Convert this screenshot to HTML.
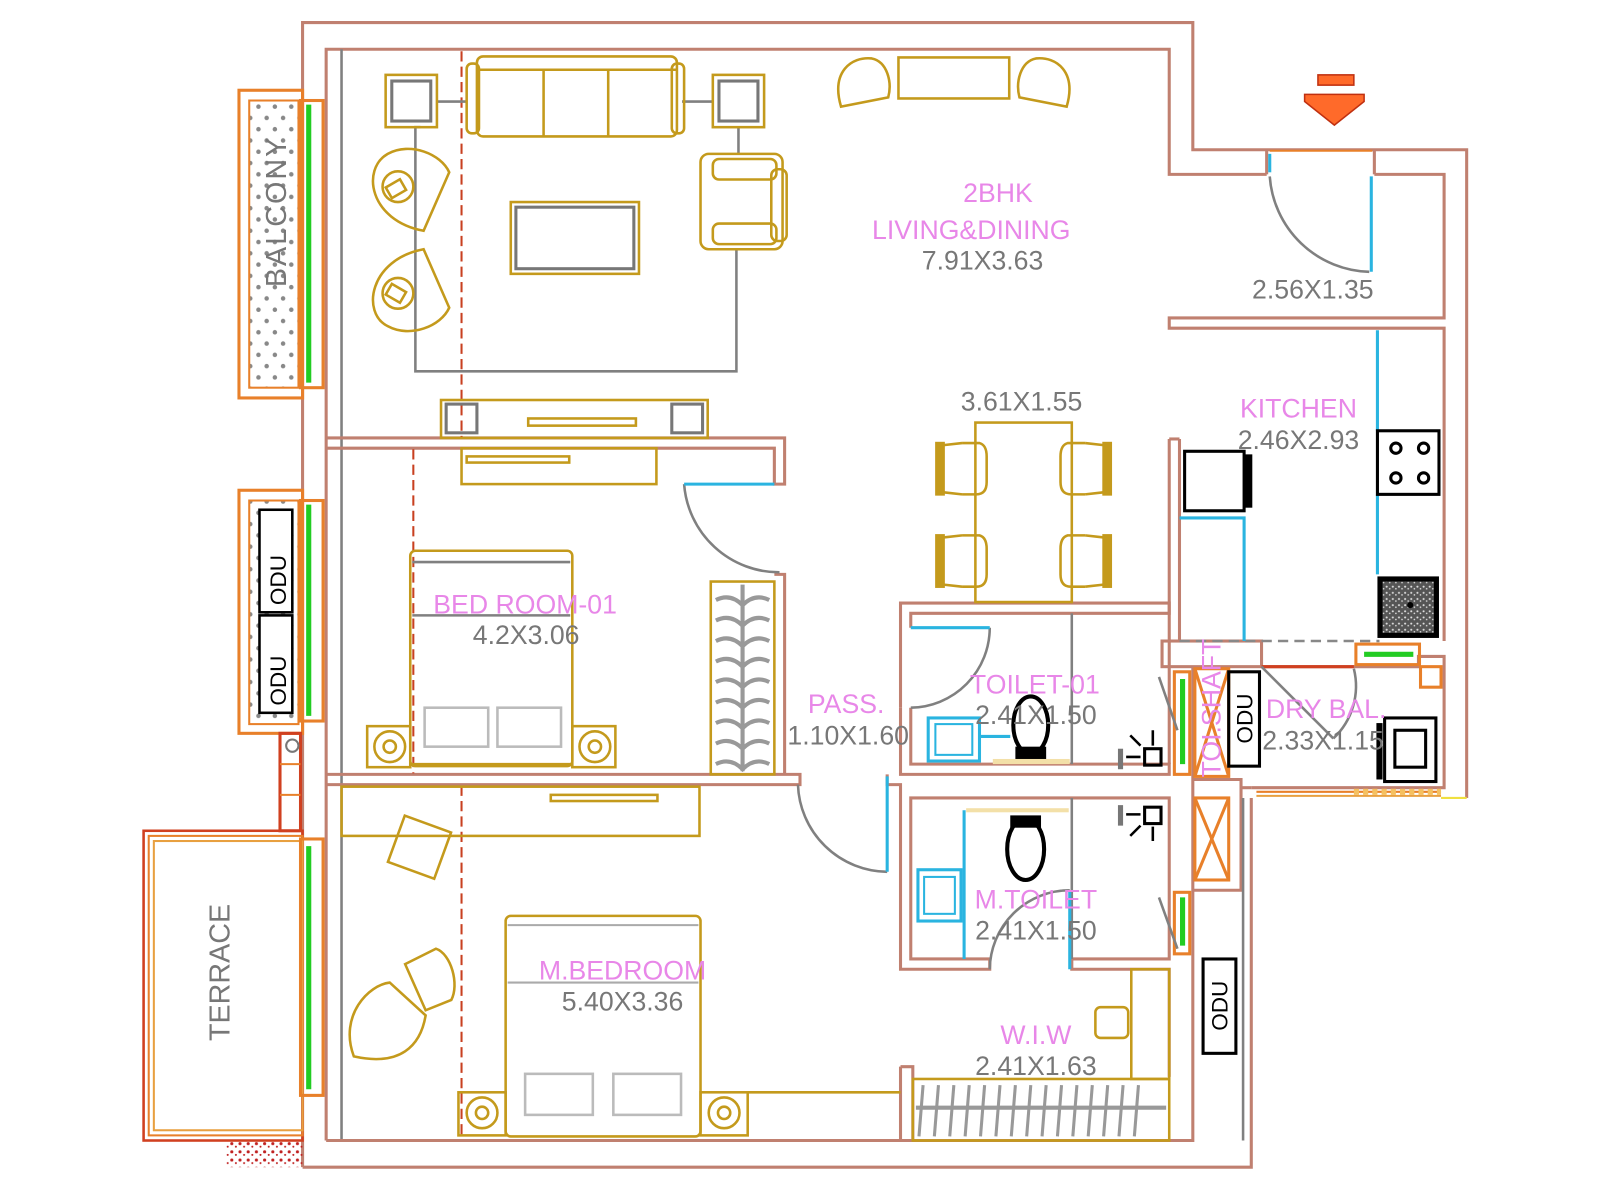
<!DOCTYPE html>
<html><head><meta charset="utf-8"><style>
html,body{margin:0;padding:0;background:#fff;}
svg{display:block;}
text{font-family:"Liberation Sans",sans-serif;}
.w{stroke:#c08070;stroke-width:3;fill:none;}
.f{stroke:#c49a1c;stroke-width:2.5;fill:none;}
.g{stroke:#808080;stroke-width:2.5;fill:none;}
.c{stroke:#2ab4e0;stroke-width:3;fill:none;}
.o{stroke:#e8802a;stroke-width:3;fill:none;}
.k{stroke:#000;stroke-width:3;fill:none;}
.lab{fill:#e887e8;font-size:26px;}
.dim{fill:#777;font-size:26px;}
</style></head><body>
<svg width="1600" height="1200" viewBox="0 0 1560 1170" preserveAspectRatio="none" xmlns="http://www.w3.org/2000/svg">
<defs>
<pattern id="dots" width="16" height="22" patternUnits="userSpaceOnUse"><circle cx="4" cy="5" r="2.2" fill="#888"/><circle cx="12" cy="16" r="2.2" fill="#888"/></pattern>
<pattern id="reddots" width="8" height="8" patternUnits="userSpaceOnUse"><circle cx="2" cy="3" r="1.5" fill="#c02020"/><circle cx="6" cy="6" r="1" fill="#c02020"/></pattern>
<pattern id="gran" width="6" height="6" patternUnits="userSpaceOnUse"><rect width="6" height="6" fill="#555"/><circle cx="2" cy="2" r="1" fill="#ddd"/><circle cx="5" cy="4" r=".8" fill="#ddd"/></pattern>
</defs>

<!-- OUTER WALLS -->
<polyline class="w" points="295,1138 295,22 1163,22 1163,146 1430,146 1430,778"/>
<polyline class="w" points="1220,778 1220,1138 295,1138"/>
<polyline class="w" points="318,1112 318,48 1140,48 1140,170 1235,170"/>
<polyline class="w" points="1340,170 1408,170 1408,310 1140,310 1140,320 1408,320 1408,625"/>
<line class="w" x1="1235" y1="146" x2="1235" y2="170"/><line class="w" x1="1340" y1="146" x2="1340" y2="170"/>
<line x1="1238" y1="147" x2="1338" y2="147" stroke="#e8802a" stroke-width="2"/>
<line class="g" x1="333" y1="48" x2="333" y2="1112" stroke-width="2"/>
<polyline class="w" points="318,1112 1163,1112 1163,650"/>
<!-- living/bed1 partition -->
<polyline class="w" points="318,427 765,427 765,472 755,472 755,437 318,437"/>
<!-- bed1/master partition -->
<polyline class="w" points="318,755 780,755 780,765 318,765"/>
<polyline class="w" points="755,560 765,560 765,755"/>
<!-- toilets block -->
<polyline class="w" points="878,690 878,588 1140,588 1140,598 888,598 888,612"/>
<polyline class="w" points="888,690 888,745 1140,745 1140,755 878,755 878,690"/>
<line class="w" x1="1140" y1="428" x2="1140" y2="745"/><line class="w" x1="1150" y1="428" x2="1150" y2="625"/>
<line class="w" x1="1140" y1="428" x2="1150" y2="428"/>
<polyline class="w" points="865,755 865,765 878,765 878,945 965,945 965,935 888,935 888,778 1140,778 1140,935 1045,935 1045,945 1140,945 1140,1050"/>
<line class="g" x1="1045" y1="598" x2="1045" y2="745" stroke-width="2"/>
<line class="g" x1="1045" y1="778" x2="1045" y2="935" stroke-width="2"/>
<polyline class="w" points="878,1040 878,1112 890,1112 890,1040 878,1040"/>
<!-- shaft / dry bal -->
<rect class="w" x="1133" y="625" width="97" height="25"/>
<polyline class="w" points="1163,760 1210,760 1210,868 1163,868"/>
<polyline class="w" points="1230,650 1383,650 1383,640 1408,640 1408,768 1220,768"/>
<line class="w" x1="1210" y1="768" x2="1220" y2="768"/>
<line x1="1230" y1="650" x2="1320" y2="650" stroke="#d04020" stroke-width="3"/>
<rect x="1322" y="628" width="62" height="20" class="o" stroke-width="2"/>
<line x1="1330" y1="638" x2="1378" y2="638" stroke="#22cc22" stroke-width="5"/>
<line x1="1225" y1="772" x2="1405" y2="772" stroke="#e8802a" stroke-width="2"/>
<line x1="1225" y1="776" x2="1405" y2="776" stroke="#e8a040" stroke-width="2"/>
<line x1="1405" y1="778" x2="1430" y2="778" stroke="#f0e040" stroke-width="2"/>
<line x1="1150" y1="625" x2="1345" y2="625" stroke="#888" stroke-width="2.5" stroke-dasharray="10,6"/>
<!-- shaft X boxes -->
<rect class="o" x="1165" y="652" width="33" height="105" stroke-width="2"/>
<line class="o" x1="1165" y1="652" x2="1198" y2="757" stroke-width="2"/><line class="o" x1="1198" y1="652" x2="1165" y2="757" stroke-width="2"/>
<rect class="o" x="1165" y="778" width="33" height="80" stroke-width="2"/>
<line class="o" x1="1165" y1="778" x2="1198" y2="858" stroke-width="2"/><line class="o" x1="1198" y1="778" x2="1165" y2="858" stroke-width="2"/>
<rect class="k" x="1198" y="655" width="30" height="92" stroke-width="2.5"/>
<text x="0" y="0" transform="translate(1221,725) rotate(-90)" font-size="22" fill="#000">ODU</text>
<rect x="1145" y="655" width="15" height="100" class="o" stroke-width="2"/><line x1="1153" y1="662" x2="1153" y2="745" stroke="#22cc22" stroke-width="5"/>
<rect x="1145" y="870" width="15" height="60" class="o" stroke-width="2"/><line x1="1153" y1="875" x2="1153" y2="922" stroke="#22cc22" stroke-width="5"/>
<line class="g" x1="1130" y1="660" x2="1148" y2="712"/><line class="g" x1="1130" y1="875" x2="1148" y2="925"/>
<line class="g" x1="1212" y1="778" x2="1212" y2="1112" stroke-width="2"/>
<rect class="k" x="1173" y="935" width="32" height="92" stroke-width="2.5"/>
<text transform="translate(1197,1005) rotate(-90)" font-size="22" fill="#000">ODU</text>
<text transform="translate(1190,758) rotate(-90)" class="lab" font-size="24">TOI.SHAFT</text>

<!-- BALCONY -->
<rect class="o" x="233" y="88" width="62" height="300"/>
<rect x="243" y="98" width="48" height="280" fill="url(#dots)" stroke="#e8802a" stroke-width="2"/>
<rect class="o" x="293" y="98" width="22" height="280" stroke-width="2"/>
<line x1="301" y1="102" x2="301" y2="373" stroke="#22cc22" stroke-width="5"/>
<text transform="translate(279,280) rotate(-90)" fill="#777" font-size="28" letter-spacing="2">BALCONY</text>
<!-- ODU balcony -->
<rect class="o" x="233" y="478" width="62" height="237"/>
<rect x="243" y="488" width="48" height="218" fill="url(#dots)" stroke="#e8802a" stroke-width="2"/>
<rect class="o" x="293" y="488" width="22" height="215" stroke-width="2"/>
<line x1="301" y1="492" x2="301" y2="698" stroke="#22cc22" stroke-width="5"/>
<rect x="253" y="497" width="32" height="100" fill="#fff" stroke="#000" stroke-width="2.5"/>
<rect x="253" y="600" width="32" height="95" fill="#fff" stroke="#000" stroke-width="2.5"/>
<text transform="translate(279,590) rotate(-90)" font-size="22" fill="#000">ODU</text>
<text transform="translate(279,688) rotate(-90)" font-size="22" fill="#000">ODU</text>
<rect x="273" y="715" width="20" height="95" fill="none" stroke="#d04020" stroke-width="3"/>
<circle cx="285" cy="727" r="6" fill="none" stroke="#777" stroke-width="2"/>
<line x1="273" y1="745" x2="293" y2="745" stroke="#e8802a" stroke-width="2"/><line x1="273" y1="775" x2="293" y2="775" stroke="#e8802a" stroke-width="2"/>
<!-- TERRACE -->
<rect x="140" y="810" width="155" height="302" fill="none" stroke="#d04020" stroke-width="2.5"/>
<rect x="145" y="815" width="150" height="292" fill="none" stroke="#e8802a" stroke-width="2"/>
<rect x="150" y="820" width="145" height="282" fill="none" stroke="#e8a040" stroke-width="2"/>
<rect class="o" x="293" y="818" width="22" height="250" stroke-width="2"/>
<line x1="301" y1="825" x2="301" y2="1062" stroke="#22cc22" stroke-width="5"/>
<text transform="translate(224,1015) rotate(-90)" fill="#777" font-size="28">TERRACE</text>
<rect x="220" y="1112" width="75" height="26" fill="url(#reddots)"/>

<!-- red dashed -->
<line x1="450" y1="50" x2="450" y2="428" stroke="#c84020" stroke-width="2" stroke-dasharray="10,5"/>
<line x1="403" y1="438" x2="403" y2="754" stroke="#c84020" stroke-width="2" stroke-dasharray="10,5"/>
<line x1="450" y1="766" x2="450" y2="1110" stroke="#c84020" stroke-width="2" stroke-dasharray="10,5"/>

<!-- LIVING furniture -->
<polyline class="g" points="410,124 405,124 405,362 718,362 718,243"/>
<line class="g" x1="426" y1="99" x2="455" y2="99"/><line class="g" x1="665" y1="99" x2="695" y2="99"/>
<line class="g" x1="720" y1="124" x2="720" y2="150"/>
<rect class="f" x="376" y="73" width="50" height="51"/><rect x="382" y="79" width="38" height="39" fill="none" stroke="#777" stroke-width="3"/>
<rect class="f" x="695" y="73" width="50" height="51"/><rect x="701" y="79" width="38" height="39" fill="none" stroke="#777" stroke-width="3"/>
<rect class="f" x="465" y="55" width="195" height="78" rx="6"/>
<rect class="f" x="455" y="62" width="12" height="68" rx="5"/><rect class="f" x="655" y="62" width="12" height="68" rx="5"/>
<line class="f" x1="465" y1="68" x2="660" y2="68"/>
<line class="f" x1="530" y1="68" x2="530" y2="133"/><line class="f" x1="593" y1="68" x2="593" y2="133"/>
<rect class="f" x="498" y="197" width="125" height="70"/><rect x="503" y="202" width="115" height="60" fill="none" stroke="#777" stroke-width="3"/>
<rect class="f" x="683" y="150" width="80" height="93" rx="8"/><rect class="f" x="695" y="155" width="62" height="20" rx="6"/><rect class="f" x="695" y="218" width="62" height="20" rx="6"/><rect class="f" x="752" y="165" width="15" height="70" rx="6"/>
<path class="f" d="M413,225 C360,215 352,165 378,150 C400,138 430,150 438,168 Z"/>
<circle class="f" cx="388" cy="182" r="15"/><rect class="f" x="378" y="178" width="16" height="12" transform="rotate(-30 386 184)"/>
<path class="f" d="M413,243 C360,253 352,305 378,318 C400,330 430,318 438,300 Z"/>
<circle class="f" cx="388" cy="286" r="15"/><rect class="f" x="378" y="280" width="16" height="12" transform="rotate(30 386 286)"/>
<!-- armchairs top -->
<path class="f" d="M820,104 C810,70 830,55 850,57 C865,60 870,80 866,95 Z"/>
<path class="f" d="M1040,104 C1050,70 1030,55 1010,57 C995,60 990,80 994,95 Z"/>
<rect class="f" x="876" y="56" width="108" height="40"/>
<!-- TV unit -->
<rect class="f" x="430" y="390" width="260" height="37"/>
<rect x="435" y="394" width="30" height="28" fill="none" stroke="#777" stroke-width="3"/><rect x="655" y="394" width="30" height="28" fill="none" stroke="#777" stroke-width="3"/>
<rect class="f" x="515" y="408" width="105" height="7"/>
<!-- bedroom1 -->
<rect class="f" x="450" y="437" width="190" height="35"/><rect class="f" x="455" y="445" width="100" height="6"/>
<path class="g" d="M667,472 A93,93 0 0 0 760,558"/>
<line class="c" x1="667" y1="472" x2="755" y2="472"/>
<rect class="f" x="400" y="537" width="158" height="210" rx="5"/>
<line class="g" x1="402" y1="548" x2="556" y2="548" stroke="#aaa"/><line class="g" x1="402" y1="600" x2="556" y2="600" stroke="#aaa"/>
<rect x="414" y="690" width="62" height="38" fill="none" stroke="#bbb" stroke-width="2.5"/><rect x="485" y="690" width="62" height="38" fill="none" stroke="#bbb" stroke-width="2.5"/>
<rect class="f" x="358" y="708" width="42" height="40"/><rect class="f" x="558" y="708" width="42" height="40"/>
<circle class="f" cx="380" cy="728" r="15"/><circle class="f" cx="380" cy="728" r="6"/>
<circle class="f" cx="580" cy="728" r="15"/><circle class="f" cx="580" cy="728" r="6"/>
<line class="f" x1="400" y1="745" x2="558" y2="745"/>
<rect class="f" x="693" y="567" width="62" height="188"/>
<line x1="724" y1="570" x2="724" y2="752" stroke="#999" stroke-width="4"/>
<g stroke="#999" stroke-width="4" fill="none">
<path d="M698,585 Q712,578 724,590 Q736,578 750,585"/><path d="M698,605 Q712,598 724,610 Q736,598 750,605"/><path d="M698,625 Q712,618 724,630 Q736,618 750,625"/><path d="M698,645 Q712,638 724,650 Q736,638 750,645"/><path d="M698,665 Q712,658 724,670 Q736,658 750,665"/><path d="M698,685 Q712,678 724,690 Q736,678 750,685"/><path d="M698,705 Q712,698 724,710 Q736,698 750,705"/><path d="M698,725 Q712,718 724,730 Q736,718 750,725"/><path d="M698,745 Q712,738 724,750 Q736,738 750,745"/>
</g>
<!-- master -->
<rect class="f" x="333" y="767" width="349" height="48"/><rect class="f" x="537" y="775" width="104" height="6"/>
<rect class="f" x="385" y="802" width="48" height="48" transform="rotate(20 409 826)"/>
<path class="f" d="M345,1030 C330,990 360,960 380,958 L415,990 C410,1020 390,1040 345,1030 Z"/>
<path class="f" d="M395,940 L425,925 C440,930 448,960 440,975 L415,985 Z"/>
<rect class="f" x="493" y="893" width="190" height="215" rx="5"/>
<line x1="495" y1="902" x2="681" y2="902" stroke="#aaa" stroke-width="2"/><line x1="495" y1="958" x2="681" y2="958" stroke="#aaa" stroke-width="2"/>
<rect x="512" y="1047" width="66" height="40" fill="none" stroke="#bbb" stroke-width="2.5"/><rect x="598" y="1047" width="66" height="40" fill="none" stroke="#bbb" stroke-width="2.5"/>
<rect class="f" x="447" y="1065" width="46" height="42"/><rect class="f" x="683" y="1065" width="46" height="42"/>
<circle class="f" cx="470" cy="1085" r="15"/><circle class="f" cx="470" cy="1085" r="6"/>
<circle class="f" cx="706" cy="1085" r="15"/><circle class="f" cx="706" cy="1085" r="6"/>
<line class="f" x1="729" y1="1065" x2="878" y2="1065"/>
<!-- WIW -->
<rect class="f" x="890" y="1052" width="250" height="60"/>
<line x1="893" y1="1080" x2="1137" y2="1080" stroke="#999" stroke-width="4"/>
<g stroke="#999" stroke-width="3">
<line x1="900" y1="1058" x2="896" y2="1108"/><line x1="915" y1="1058" x2="911" y2="1108"/><line x1="930" y1="1058" x2="926" y2="1108"/><line x1="945" y1="1058" x2="941" y2="1108"/><line x1="960" y1="1058" x2="956" y2="1108"/><line x1="975" y1="1058" x2="971" y2="1108"/><line x1="990" y1="1058" x2="986" y2="1108"/><line x1="1005" y1="1058" x2="1001" y2="1108"/><line x1="1020" y1="1058" x2="1016" y2="1108"/><line x1="1035" y1="1058" x2="1031" y2="1108"/><line x1="1050" y1="1058" x2="1046" y2="1108"/><line x1="1065" y1="1058" x2="1061" y2="1108"/><line x1="1080" y1="1058" x2="1076" y2="1108"/><line x1="1095" y1="1058" x2="1091" y2="1108"/><line x1="1110" y1="1058" x2="1106" y2="1108"/>
</g>
<rect class="f" x="1103" y="945" width="37" height="107"/><rect class="f" x="1068" y="982" width="32" height="30" rx="5"/>
<!-- doors pass -->
<path class="g" d="M778,765 A88,88 0 0 0 865,850"/>
<line class="c" x1="865" y1="757" x2="865" y2="850"/>
<path class="g" d="M888,690 A78,78 0 0 0 965,612"/>
<line class="c" x1="888" y1="612" x2="965" y2="612"/>
<path class="g" d="M965,945 A78,78 0 0 1 1043,868"/>
<line class="c" x1="1043" y1="868" x2="1043" y2="945"/>
<!-- toilets fixtures -->
<rect x="905" y="700" width="50" height="42" fill="none" stroke="#2ab4e0" stroke-width="3"/><rect x="912" y="706" width="36" height="30" fill="none" stroke="#2ab4e0" stroke-width="2"/>
<line class="c" x1="955" y1="718" x2="985" y2="718" stroke-width="2"/>
<rect x="968" y="740" width="75" height="5" fill="#f3e0a8"/>
<ellipse cx="1005" cy="707" rx="17" ry="28" fill="none" stroke="#000" stroke-width="4"/><rect x="990" y="728" width="30" height="12" fill="#000"/>
<rect x="1090" y="730" width="5" height="20" fill="#777"/><rect x="1116" y="730" width="16" height="16" class="k" stroke-width="2.5"/>
<rect x="1090" y="785" width="5" height="20" fill="#777"/><rect x="1116" y="787" width="16" height="16" class="k" stroke-width="2.5"/>
<path d="M1102,717 L1112,727 M1124,712 L1124,727 M1098,738 L1112,738 M1098,794 L1112,794 M1102,815 L1112,805 M1124,820 L1124,806" stroke="#000" stroke-width="2.5"/>
<rect x="942" y="788" width="100" height="4" fill="#f3e0a8"/>
<line class="c" x1="940" y1="790" x2="940" y2="935" stroke-width="2"/>
<ellipse cx="1000" cy="828" rx="18" ry="30" fill="none" stroke="#000" stroke-width="4"/><rect x="985" y="795" width="30" height="12" fill="#000"/>
<rect x="895" y="848" width="42" height="50" fill="none" stroke="#2ab4e0" stroke-width="3"/><rect x="901" y="855" width="30" height="36" fill="none" stroke="#2ab4e0" stroke-width="2"/>
<!-- dining -->
<rect class="f" x="951" y="412" width="94" height="175"/>
<g class="f">
<path d="M938,432 L955,432 Q962,434 962,445 L962,470 Q962,482 952,482 L938,482"/><rect x="913" y="432" width="7" height="50" fill="#c49a1c"/><line x1="920" y1="434" x2="938" y2="432"/><line x1="920" y1="480" x2="938" y2="482"/>
<path d="M938,522 L955,522 Q962,524 962,535 L962,560 Q962,572 952,572 L938,572"/><rect x="913" y="522" width="7" height="50" fill="#c49a1c"/><line x1="920" y1="524" x2="938" y2="522"/><line x1="920" y1="570" x2="938" y2="572"/>
<path d="M1058,432 L1041,432 Q1034,434 1034,445 L1034,470 Q1034,482 1044,482 L1058,482"/><rect x="1076" y="432" width="7" height="50" fill="#c49a1c"/><line x1="1076" y1="434" x2="1058" y2="432"/><line x1="1076" y1="480" x2="1058" y2="482"/>
<path d="M1058,522 L1041,522 Q1034,524 1034,535 L1034,560 Q1034,572 1044,572 L1058,572"/><rect x="1076" y="522" width="7" height="50" fill="#c49a1c"/><line x1="1076" y1="524" x2="1058" y2="522"/><line x1="1076" y1="570" x2="1058" y2="572"/>
</g>
<!-- kitchen -->
<line class="c" x1="1343" y1="322" x2="1343" y2="420" stroke-width="2.5"/><line class="c" x1="1343" y1="482" x2="1343" y2="560" stroke-width="2.5"/>
<polyline class="c" points="1150,505 1213,505 1213,625" stroke-width="2.5"/>
<rect class="k" x="1155" y="440" width="58" height="58"/><rect x="1213" y="443" width="8" height="52" fill="#000"/>
<rect class="k" x="1343" y="420" width="60" height="62"/>
<g fill="none" stroke="#000" stroke-width="3"><circle cx="1361" cy="437" r="5"/><circle cx="1388" cy="437" r="5"/><circle cx="1361" cy="466" r="5"/><circle cx="1388" cy="466" r="5"/></g>
<rect x="1343" y="562" width="60" height="60" fill="#000"/><rect x="1348" y="567" width="50" height="50" fill="url(#gran)"/><circle cx="1375" cy="590" r="3" fill="#000"/>
<!-- entry door -->
<path class="g" d="M1238,172 A100,100 0 0 0 1335,265"/>
<line class="c" x1="1337" y1="172" x2="1337" y2="265"/>
<line class="c" x1="1238" y1="150" x2="1238" y2="168" stroke-width="2"/>
<!-- arrow -->
<rect x="1285" y="73" width="35" height="10" fill="#ff6a2a" stroke="#c03010" stroke-width="1.5"/>
<polygon points="1272,92 1330,92 1330,99 1301,122 1272,99" fill="#ff6a2a" stroke="#c03010" stroke-width="1.5"/>
<!-- dry bal -->
<path class="g" d="M1230,650 L1300,720" stroke-width="4"/>
<path class="g" d="M1320,652 A70,70 0 0 1 1300,720"/>
<rect class="k" x="1350" y="700" width="50" height="62"/><rect class="k" x="1360" y="712" width="30" height="36" stroke-width="2.5"/><rect x="1342" y="705" width="6" height="55" fill="#000"/>
<rect class="o" x="1385" y="650" width="20" height="20" stroke-width="2"/>
<line x1="1320" y1="772" x2="1405" y2="772" stroke="#f5c060" stroke-width="6" stroke-dasharray="5,4"/>

<!-- LABELS -->
<text x="973" y="197" class="lab" font-size="32" text-anchor="middle">2BHK</text>
<text x="947" y="233" class="lab" text-anchor="middle">LIVING&amp;DINING</text>
<text x="958" y="263" class="dim" text-anchor="middle">7.91X3.63</text>
<text x="1280" y="291" class="dim" text-anchor="middle">2.56X1.35</text>
<text x="996" y="400" class="dim" text-anchor="middle">3.61X1.55</text>
<text x="1266" y="407" class="lab" text-anchor="middle">KITCHEN</text>
<text x="1266" y="438" class="dim" text-anchor="middle">2.46X2.93</text>
<text x="512" y="598" class="lab" text-anchor="middle">BED ROOM-01</text>
<text x="513" y="628" class="dim" text-anchor="middle">4.2X3.06</text>
<text x="825" y="695" class="lab" text-anchor="middle">PASS.</text>
<text x="827" y="726" class="dim" text-anchor="middle">1.10X1.60</text>
<text x="1009" y="676" class="lab" text-anchor="middle">TOILET-01</text>
<text x="1010" y="706" class="dim" text-anchor="middle">2.41X1.50</text>
<text x="1293" y="700" class="lab" text-anchor="middle">DRY BAL.</text>
<text x="1290" y="731" class="dim" text-anchor="middle">2.33X1.15</text>
<text x="1010" y="886" class="lab" text-anchor="middle">M.TOILET</text>
<text x="1010" y="916" class="dim" text-anchor="middle">2.41X1.50</text>
<text x="607" y="955" class="lab" text-anchor="middle">M.BEDROOM</text>
<text x="607" y="985" class="dim" text-anchor="middle">5.40X3.36</text>
<text x="1010" y="1018" class="lab" text-anchor="middle">W.I.W</text>
<text x="1010" y="1048" class="dim" text-anchor="middle">2.41X1.63</text>
</svg>
</body></html>
